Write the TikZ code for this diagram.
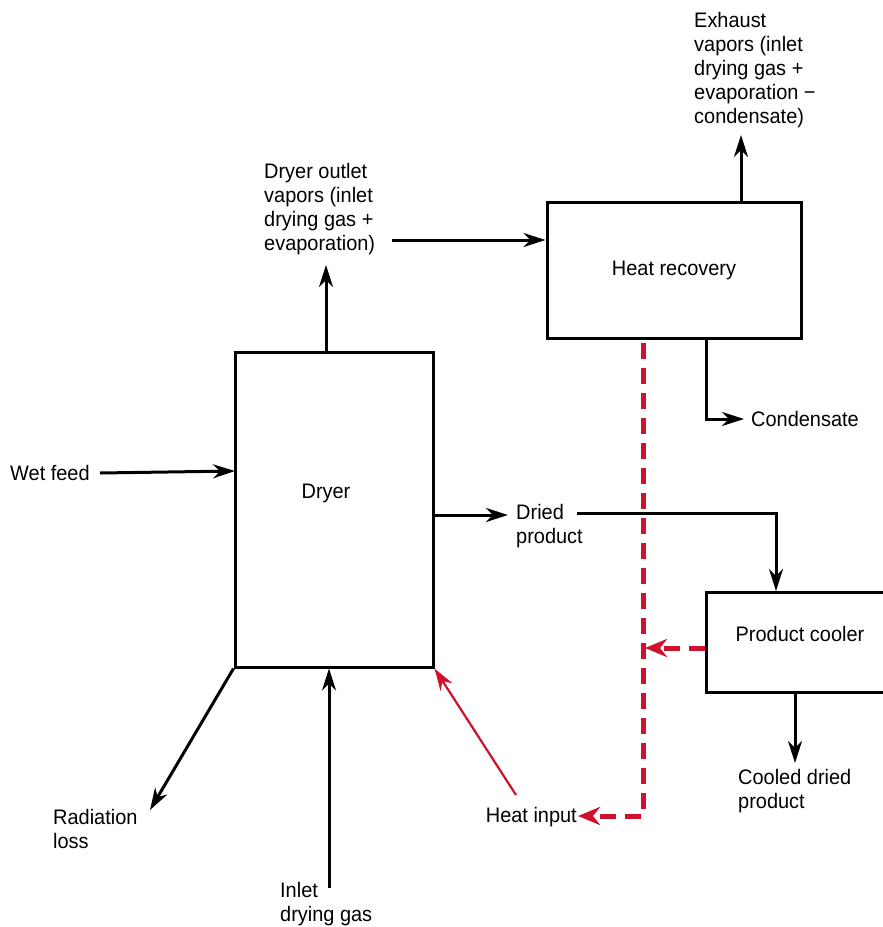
\documentclass[tikz,border=0pt]{standalone}
\usepackage{fontspec}
\setmainfont[FakeStretch=0.95]{Liberation Sans}
\usetikzlibrary{arrows.meta,calc}
\definecolor{heatred}{RGB}{208,16,44}
\begin{document}
\begin{tikzpicture}[x=1pt,y=-1pt,
  every node/.style={font=\fontsize{21}{24}\selectfont},
  box/.style={draw, line width=3pt, inner sep=0pt},
  lbl/.style={anchor=north west, align=left, inner sep=0pt},
  arr/.style={line width=3pt, -{Stealth[length=22pt,width=14pt,inset=7pt]}},
  heat/.style={draw=heatred, line width=5pt, dash pattern=on 16pt off 9pt, -{Stealth[length=22pt,width=18pt,inset=7pt]}},
  heatin/.style={draw=heatred, line width=2.2pt, -{Stealth[length=22pt,width=14pt,inset=7pt]}}]
\useasboundingbox (0,0) rectangle (883,927);

% boxes
\node[box, minimum width=198pt, minimum height=315pt] (dryer) at (334,509.5) {};
\node (dryerlbl) at (326,493) {Dryer};
\node[box, minimum width=254pt, minimum height=136pt] (hr) at (674,270) {Heat recovery};
\node[box, minimum width=200pt, minimum height=100pt, anchor=north west] (pc) at (705,591) {};
\node (pclbl) at (800,634) {Product cooler};

% labels
\node[lbl] (exhlbl) at (694,12) {Exhaust\\vapors (inlet\\drying gas +\\evaporation −\\condensate)};
\node[lbl] (dovlbl) at (264,163) {Dryer outlet\\vapors (inlet\\drying gas +\\evaporation)};
\node[anchor=west, inner sep=0pt] (condlbl) at (751,419) {Condensate};
\node[anchor=west, inner sep=0pt] (wet) at (10,473) {Wet feed};
\node[lbl] (dplbl) at (516,504) {Dried\\product};
\node[lbl] (cdplbl) at (738,769) {Cooled dried\\product};
\node[lbl] (radlbl) at (53,809) {Radiation\\loss};
\node[anchor=east, inner sep=0pt] (hilbl) at (577,817) {Heat input};
\node[lbl] (igslbl) at (280,882) {Inlet\\drying gas};

% coordinates for free ends
\coordinate (vtop) at (326,265);
\coordinate (dov) at (392,240);
\coordinate (exh) at (741,135);
\coordinate (condc) at (706,419);
\coordinate (cond) at (744,419);
\coordinate (wetstart) at (100,473);
\coordinate (wetend) at (235,471);
\coordinate (dp) at (508,515);
\coordinate (dpstart) at (577,513);
\coordinate (pcin) at (776,591);
\coordinate (cdp) at (795,763);
\coordinate (rtop) at (643,343);
\coordinate (rcorner) at (643,816);
\coordinate (hiend) at (578,816);
\coordinate (rjoin) at (645,648);
\coordinate (hstart) at (516,795);
\coordinate (rad) at (150,810);
\coordinate (igs) at (329,888);

% black connectors
\draw[arr] (dryer.north -| vtop) -- (vtop);
\draw[arr] (dov) -- (dov -| hr.west);
\draw[arr] (hr.north -| exh) -- (exh);
\draw[arr] (hr.south -| condc) |- (cond);
\draw[arr] (wetstart) -- (wetend);
\draw[arr] (dryer.east |- dp) -- (dp);
\draw[arr] (dpstart) -| (pc.north -| pcin);
\draw[arr] (pc.south -| cdp) -- (cdp);
\draw[arr] (dryer.south west) -- (rad);
\draw[arr] (igs) -- (dryer.south -| igs);

% heat connectors
\draw[heat] (rtop) -- (rcorner) -- (hiend);
\draw[heat] (pc.west |- rjoin) -- (rjoin);
\draw[heatin] (hstart) -- (dryer.south east);
\end{tikzpicture}
\end{document}
